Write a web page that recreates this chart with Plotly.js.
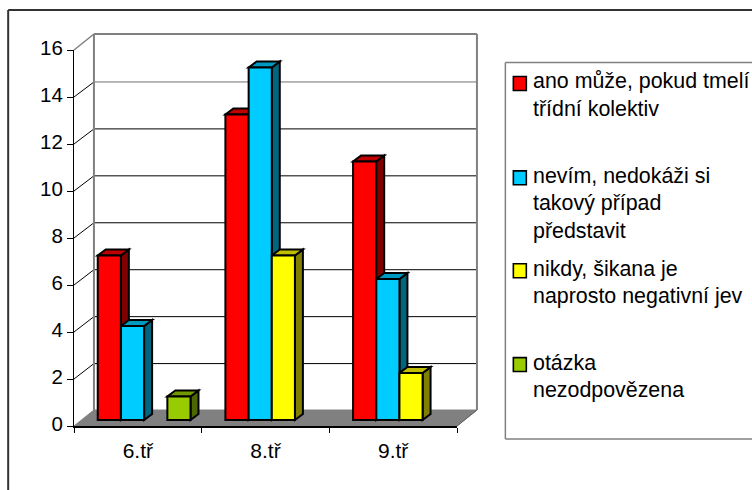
<!DOCTYPE html>
<html><head><meta charset="utf-8">
<script src="https://cdn.plot.ly/plotly-3.0.1.min.js"></script>
<style>html,body{margin:0;padding:0;background:#fff}</style></head>
<body><div id="chart" style="width:752px;height:490px"></div>
<script>
const categories = ['6.tř','8.tř','9.tř'];
const seriesLines = [
  ['ano může, pokud tmelí','třídní kolektiv'],
  ['nevím, nedokáži si','takový případ','představit'],
  ['nikdy, šikana je','naprosto negativní jev'],
  ['otázka','nezodpovězena']
];
const ano = [7,13,11];
const nevim = [4,15,6];
const nikdy = [null,7,2];
const nezodp = [1,null,null];
const seriesValues = [ano,nevim,nikdy,nezodp];
const frontColors = ['#ff0000','#00ccff','#ffff00','#99cc00'];
const topColors = ['#bf0000','#0099bf','#bfbf00','#739900'];
const sideColors = ['#800000','#006680','#808000','#4d6600'];
const yTicks = [0,2,4,6,8,10,12,14,16];

const W=752,H=490,L=73.5,R=457.5,T=49.5,B=426;
const pxX=(R-L)/3, pxY=(B-T)/16;
const wallDX=20, wallDY=16;
const barDX=8, barDY=6;
const liftY=6;
const slotW=23.2/pxX, dXb=barDX/pxX, dYb=barDY/pxY, lift=liftY/pxY;
const slotStart=[97.3-L,120.6-L,143.8-L,167.1-L].map(v=>v/pxX);

const paperX=p=>(p-L)/(R-L), paperY=p=>(B-p)/(B-T);
function poly(pts){return 'M'+pts.map(p=>p[0]+','+p[1]).join('L')+'Z';}

const shapes=[];
function pline(x0,y0,x1,y1,c,w){shapes.push({type:'line',xref:'paper',yref:'paper',layer:'below',
  x0:paperX(x0),y0:paperY(y0),x1:paperX(x1),y1:paperY(y1),line:{color:c,width:w}});}
function ppoly(pts,fill,lc,lw){shapes.push({type:'path',xref:'paper',yref:'paper',layer:'below',
  path:poly(pts.map(p=>[paperX(p[0]),paperY(p[1])])),fillcolor:fill,line:{color:lc,width:lw}});}

ppoly([[L,B],[R,B],[R+wallDX,B-wallDY],[L+wallDX,B-wallDY]],'#808080','#808080',1);
yTicks.forEach(v=>{
  const y=B-v*pxY;
  if(v>0&&v<16){
    const gy=Math.round(y-wallDY)+0.5;
    pline(L,y,L+wallDX,gy,'#000000',1);
    pline(L+wallDX,gy,R+wallDX,gy,v===14?'#707070':'#000000',1);
  }
});
pline(L,T,L+wallDX,T-wallDY,'#808080',1.5);
pline(L+wallDX,T-wallDY,R+wallDX,T-wallDY,'#808080',2);
pline(L+wallDX,T-wallDY,L+wallDX,B-wallDY,'#808080',2);
pline(R+wallDX,T-wallDY,R+wallDX,B-wallDY,'#808080',2);
pline(R,B,R+wallDX,B-wallDY,'#606060',1);

seriesValues.forEach((vals,s)=>{
  vals.forEach((v,c)=>{
    if(v==null) return;
    const x0=c+slotStart[s], x1=x0+slotW, y0=lift, y1=lift+v;
    shapes.push({type:'path',xref:'x',yref:'y',layer:'below',
      path:poly([[x1,y0],[x1+dXb,y0+dYb],[x1+dXb,y1+dYb],[x1,y1]]),
      fillcolor:sideColors[s],line:{color:'#000',width:2}});
    shapes.push({type:'path',xref:'x',yref:'y',layer:'below',
      path:poly([[x0,y1],[x1,y1],[x1+dXb,y1+dYb],[x0+dXb,y1+dYb]]),
      fillcolor:topColors[s],line:{color:'#000',width:2}});
  });
});

pline(7.5,9.5,W+2,9.5,'#333',2);
pline(7.5,9.5,7.5,H+2,'#333',2);
pline(506,62,W+2,62,'#808080',1.5);
pline(506,62,506,439,'#808080',1.5);
pline(506,439,W+2,439,'#808080',1.5);

const annotations=[];
const legendY=[83,177.5,270.5,364.5];
const textY=[81,175.5,268.5,362.5];
seriesLines.forEach((lines,s)=>{
  ppoly([[514,legendY[s]-7],[527,legendY[s]-7],[527,legendY[s]+7],[514,legendY[s]+7]],frontColors[s],'#000',1.6);
  lines.forEach((t,i)=>annotations.push({xref:'paper',yref:'paper',x:paperX(532),y:paperY(textY[s]+i*27.7),
    text:t,showarrow:false,xanchor:'left',yanchor:'middle',align:'left',
    font:{family:'Liberation Sans',size:21.4,color:'#000'}}));
});

const traces=seriesValues.map((vals,s)=>({
  type:'bar',name:seriesLines[s].join(' '),
  x:categories.map((_,i)=>i),y:vals,base:lift,
  offset:slotStart[s],width:slotW,
  marker:{color:frontColors[s],line:{color:'#000',width:2}},
  showlegend:false,hoverinfo:'skip'
}));

Plotly.newPlot('chart',traces,{
  width:W,height:H,paper_bgcolor:'#fff',plot_bgcolor:'rgba(0,0,0,0)',
  margin:{l:L,r:W-R,t:T,b:H-B,pad:0},
  barmode:'overlay',showlegend:false,
  font:{family:'Liberation Sans',color:'#000'},
  xaxis:{range:[0,3],tickmode:'array',tickvals:[0.5,1.5,2.5],ticktext:categories,ticks:'',ticklen:0,
    showgrid:false,zeroline:false,showline:true,linecolor:'#000',linewidth:1.5,
    tickfont:{size:21,color:'#000'},ticklabelstandoff:5,
    minor:{tick0:0,dtick:1,ticks:'outside',ticklen:5,tickcolor:'#000',tickwidth:1,showgrid:false}},
  yaxis:{range:[0,16],tickmode:'array',tickvals:yTicks,ticktext:yTicks.map(String),ticks:'outside',ticklen:6,tickwidth:1,tickcolor:'#000',
    showgrid:false,zeroline:false,showline:true,linecolor:'#000',linewidth:1,
    tickfont:{size:20.5,color:'#000'},ticklabelstandoff:0,ticklabelshift:-2},
  shapes,annotations
},{displayModeBar:false,staticPlot:true});
</script></body></html>
